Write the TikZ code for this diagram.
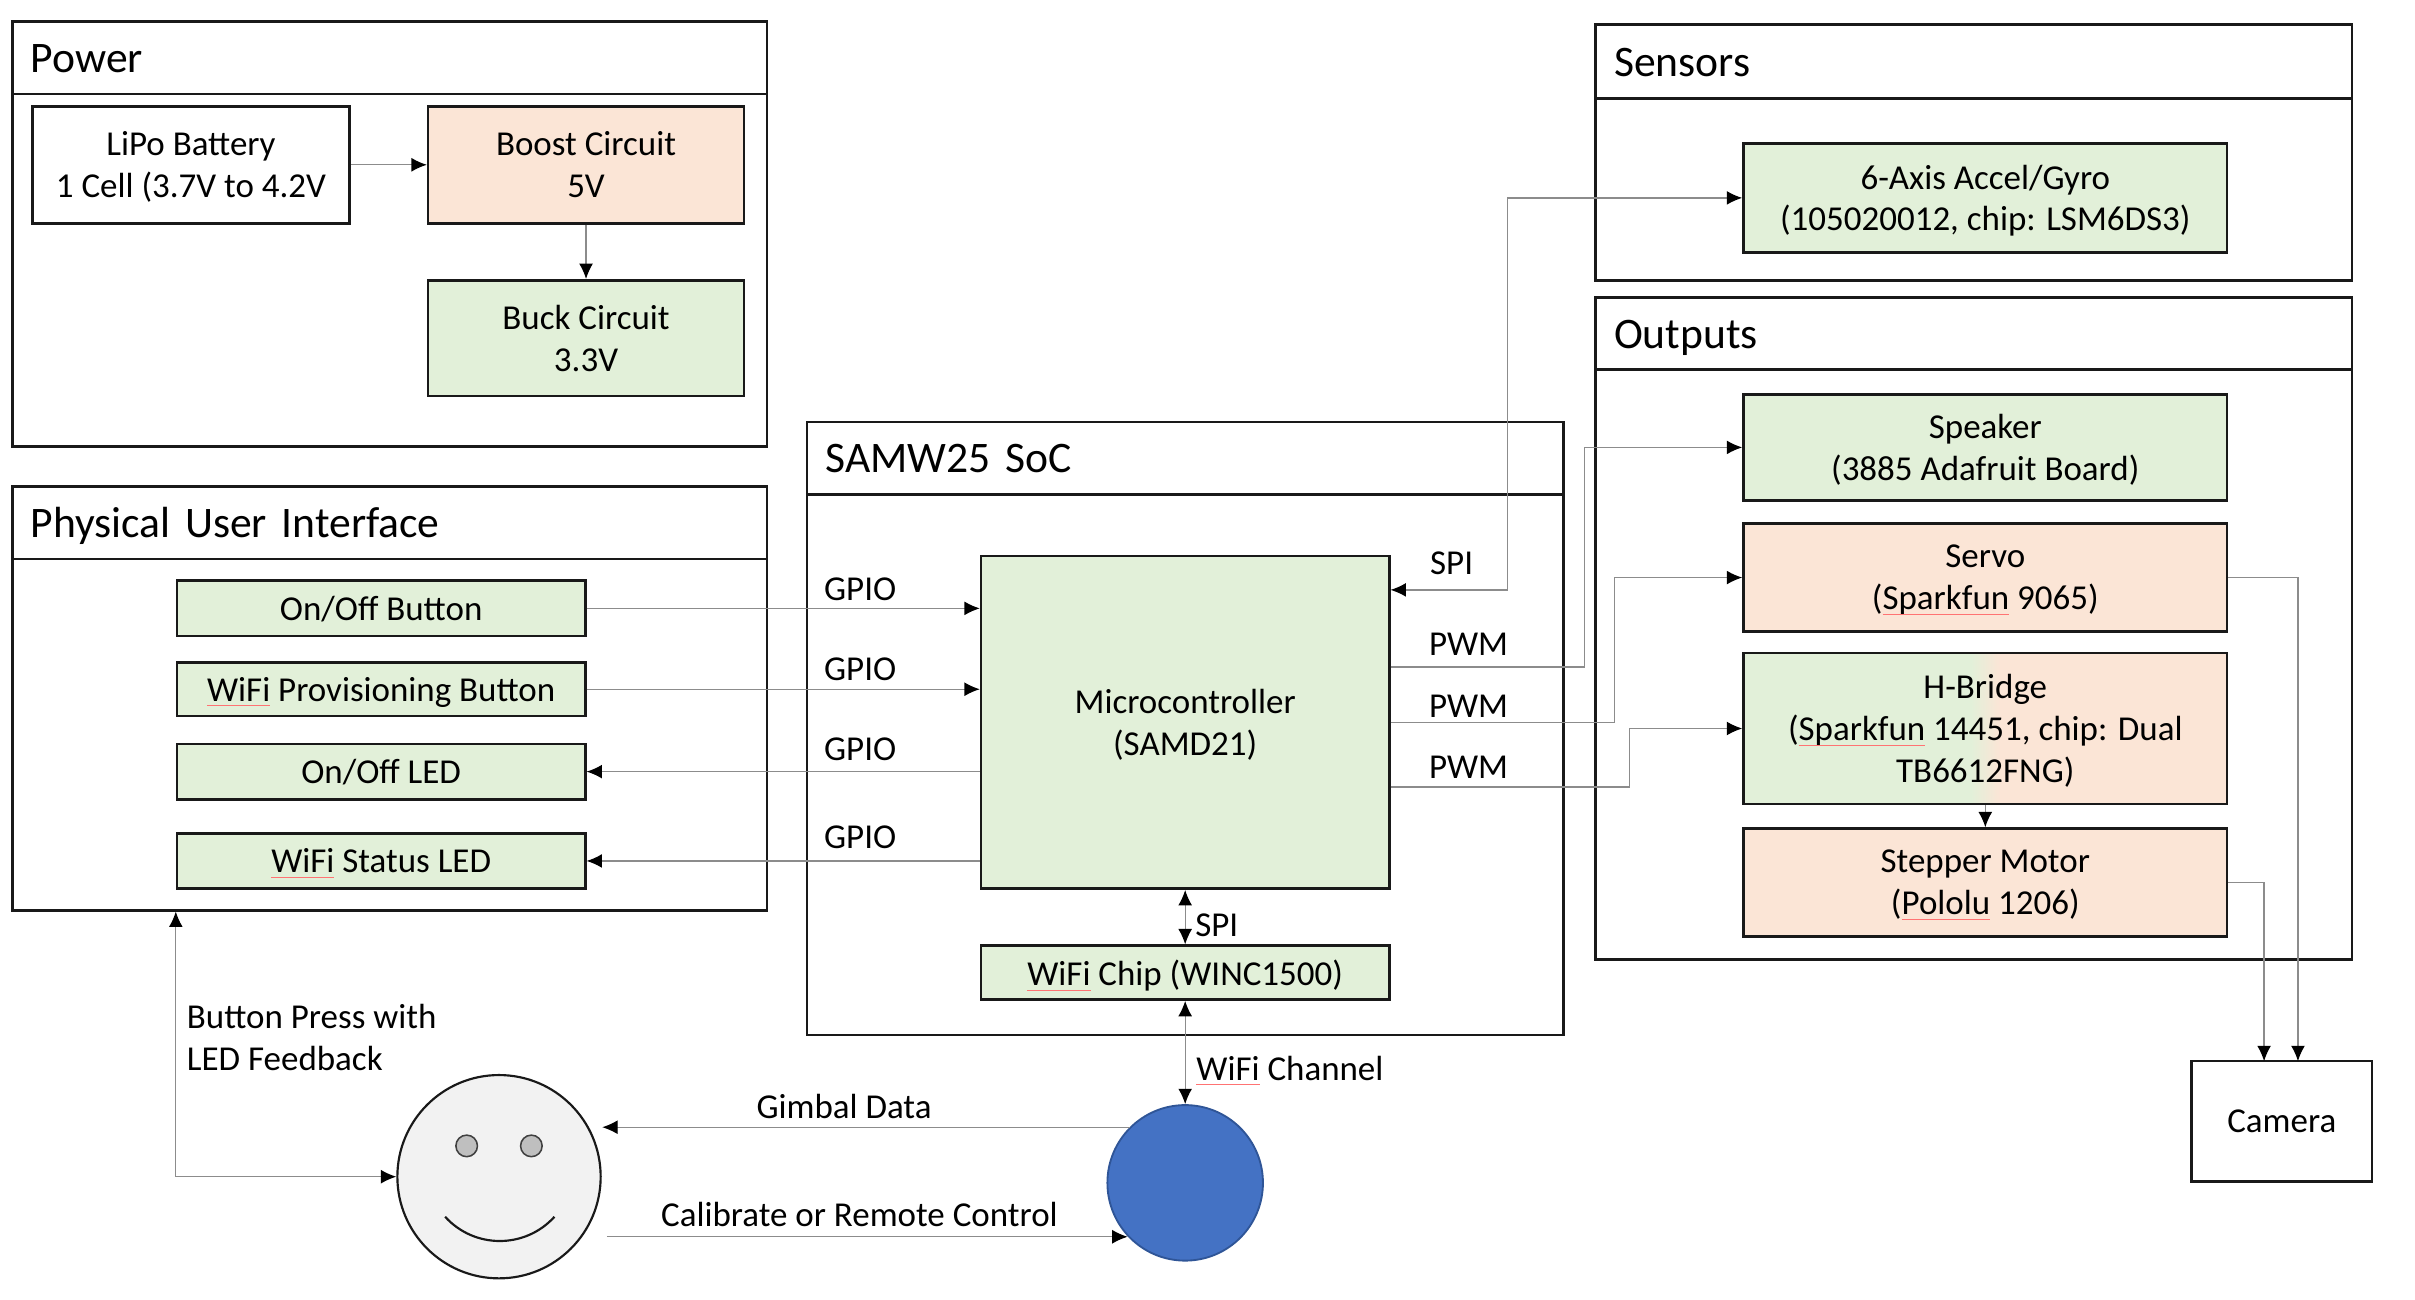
\documentclass[tikz,border=0pt]{standalone}
\usepackage{fontspec}
\setmainfont{Carlito}
\usetikzlibrary{arrows.meta,calc}
\definecolor{boxgreen}{HTML}{E2F0D9}
\definecolor{boxorange}{HTML}{FBE5D6}
\definecolor{wirecolor}{HTML}{8C8C8C}
\definecolor{dotblue}{HTML}{4472C4}
\definecolor{dotedge}{HTML}{2F5597}
\pgfdeclarehorizontalshading{hbridgeshade}{100bp}{color(0bp)=(boxgreen); color(48.5bp)=(boxgreen); color(51.5bp)=(boxorange); color(100bp)=(boxorange)}
\newsavebox\squigbox
\newcommand{\squig}[1]{\sbox\squigbox{#1}\usebox\squigbox\llap{\raisebox{-1.7pt}{\textcolor{red!55}{\rule{\wd\squigbox}{0.35pt}}}}}
\tikzset{
	boxsize/.style 2 args={minimum width=#1*0.5pt, minimum height=#2*0.5pt},
	block/.style={draw=black!90, line width=0.85pt, rectangle, inner sep=0pt, text depth=0pt, align=center, font=\fontsize{11.35}{13.6}\selectfont},
	greenblock/.style={block, fill=boxgreen},
	orangeblock/.style={block, fill=boxorange},
	groupbox/.style={draw=black!90, line width=0.85pt, rectangle, inner sep=0pt},
	grouphead/.style={draw=black!90, line width=0.85pt, rectangle, anchor=north west, outer sep=0pt, inner ysep=0pt, inner xsep=6pt, text width=#1, text height=9.6pt, text depth=0pt, minimum height=23.5pt, align=left, font=\fontsize{14.15}{16}\selectfont},
	wire/.style={draw=wirecolor, line width=0.4pt, -{Latex[black, length=5pt, width=4.5pt]}},
	wiretwo/.style={draw=wirecolor, line width=0.4pt, {Latex[black, length=5pt, width=4.5pt]}-{Latex[black, length=5pt, width=4.5pt]}},
	wirelabel/.style={inner sep=0pt, text depth=0pt, align=left, font=\fontsize{11.35}{13.6}\selectfont}
}

\begin{document}
\begin{tikzpicture}[x=0.5pt, y=-0.5pt]
	\useasboundingbox (0, 0) rectangle (1568, 844);
	%%%%% GROUPS %%%%%

	\node[groupbox, boxsize={490}{276}] (power) at (253, 152) {};
	\node[grouphead=233pt] (powerhead) at (8, 14) {Power};
	\node[groupbox, boxsize={490}{275}] (pui) at (253, 453.5) {};
	\node[grouphead=233pt] (puihead) at (8, 316) {Physical User Interface};
	\node[groupbox, boxsize={491}{398}] (soc) at (769.5, 473) {};
	\node[grouphead=233.5pt] (sochead) at (524, 274) {SAMW25 SoC};
	\node[groupbox, boxsize={491}{166}] (sensors) at (1281.5, 99) {};
	\node[grouphead=233.5pt, minimum height=24pt] (sensorshead) at (1036, 16) {Sensors};
	\node[groupbox, boxsize={491}{430}] (outputs) at (1281.5, 408) {};
	\node[grouphead=233.5pt] (outputshead) at (1036, 193) {Outputs};

	%%%%% BLOCKS %%%%%

	\node[block, boxsize={206}{76}] (lipo) at (124, 107) {LiPo Battery\\1 Cell (3.7V to 4.2V};
	\node[orangeblock, boxsize={205}{76}] (boost) at (380.5, 107) {Boost Circuit\\5V};
	\node[greenblock, boxsize={205}{75}] (buck) at (380.5, 219.5) {Buck Circuit\\3.3V};

	\node[greenblock, boxsize={265}{36}] (onoff) at (247.5, 395) {On/Off Button};
	\node[greenblock, boxsize={265}{35}] (prov) at (247.5, 447.5) {\squig{WiFi} Provisioning Button};
	\node[greenblock, boxsize={265}{36}] (onoffled) at (247.5, 501) {On/Off LED};
	\node[greenblock, boxsize={265}{36}] (statusled) at (247.5, 559) {\squig{WiFi} Status LED};

	\node[greenblock, boxsize={265}{216}] (mcu) at (769.5, 469) {Microcontroller\\(SAMD21)};
	\node[greenblock, boxsize={265}{35}] (chip) at (769.5, 631.5) {\squig{WiFi} Chip (WINC1500)};

	\node[greenblock, boxsize={314}{71}] (accel) at (1289, 128.5) {6-Axis Accel/Gyro\\(105020012, chip: LSM6DS3)};
	\node[greenblock, boxsize={314}{69}] (speaker) at (1289, 290.5) {Speaker\\(3885 Adafruit Board)};
	\node[orangeblock, boxsize={314}{70}] (servo) at (1289, 375) {Servo\\(\squig{Sparkfun} 9065)};
	\node[block, shade, shading=hbridgeshade, boxsize={314}{98}] (hbridge) at (1289, 473) {H-Bridge\\(\squig{Sparkfun} 14451, chip: Dual\\TB6612FNG)};
	\node[orangeblock, boxsize={314}{70}] (stepper) at (1289, 573) {Stepper Motor\\(\squig{Pololu} 1206)};

	\node[block, boxsize={117}{78}] (camera) at (1481.5, 728) {Camera};

	%%%%% FACE AND BLUE DOT %%%%%

	\node[circle, draw=black!90, line width=0.7pt, fill=black!5, inner sep=0pt, minimum size=66pt] (face) at (324, 764) {};
	\node[circle, draw=black!75, line width=0.5pt, fill=black!25, inner sep=0pt, minimum size=7pt] (lefteye) at (303, 744) {};
	\node[circle, draw=black!75, line width=0.5pt, fill=black!25, inner sep=0pt, minimum size=7pt] (righteye) at (345, 744) {};
	\draw[line width=0.7pt, color=black!90] (289, 790) .. controls (308, 811) and (341, 811) .. (360, 790);
	\node[circle, draw=dotedge, line width=0.6pt, fill=dotblue, inner sep=0pt, minimum size=50.5pt] (blue) at (769.5, 768) {};

	%%%%% CONNECTORS %%%%%

	\draw[wire] (lipo) -- (boost);
	\draw[wire] (boost) -- (buck);
	\draw[wire] (onoff.east) -- (onoff.east -| mcu.west);
	\draw[wire] (prov.east) -- (prov.east -| mcu.west);
	\draw[wire] (onoffled.east -| mcu.west) -- (onoffled.east);
	\draw[wire] (statusled.east -| mcu.west) -- (statusled.east);
	\draw[wiretwo] (mcu) -- (chip);
	\draw[wiretwo] (chip) -- (blue);

	\coordinate (spibend) at (979, 383);
	\coordinate (speakerbend) at (1029, 433);
	\coordinate (servobend) at (1048, 469);
	\coordinate (hbridgebend) at (1058, 511);
	\draw[wiretwo] (spibend -| mcu.east) -- (spibend) -- (spibend |- accel.west) -- (accel.west);
	\draw[wire] (speakerbend -| mcu.east) -- (speakerbend) -- (speakerbend |- speaker.west) -- (speaker.west);
	\draw[wire] (servobend -| mcu.east) -- (servobend) -- (servobend |- servo.west) -- (servo.west);
	\draw[wire] (hbridgebend -| mcu.east) -- (hbridgebend) -- (hbridgebend |- hbridge.west) -- (hbridge.west);
	\draw[wire] (hbridge) -- (stepper);

	\coordinate (steppercam) at (1470, 689);
	\coordinate (servocam) at (1492, 689);
	\draw[wire] (stepper.east) -- (stepper.east -| steppercam) -- (steppercam);
	\draw[wire] (servo.east) -- (servo.east -| servocam) -- (servocam);

	\draw[wiretwo] (onoff.west |- pui.south) -- (onoff.west |- face.west) -- (face.west);
	\coordinate (gimbalend) at (391, 732.5);
	\coordinate (calibstart) at (394, 803);
	\draw[wire] (blue.135) -- (blue.135 -| gimbalend);
	\draw[wire] (calibstart) -- (calibstart -| blue.223);

	%%%%% LABELS %%%%%

	\node[wirelabel] (gpioa) at (558.5, 382.5) {GPIO};
	\node[wirelabel] (gpiob) at (558.5, 434.5) {GPIO};
	\node[wirelabel] (gpioc) at (558.5, 486.5) {GPIO};
	\node[wirelabel] (gpiod) at (558.5, 543.5) {GPIO};
	\node[wirelabel] (spisensor) at (942.5, 365.5) {SPI};
	\node[wirelabel] (pwma) at (953.5, 418.5) {PWM};
	\node[wirelabel] (pwmb) at (953.5, 458.5) {PWM};
	\node[wirelabel] (pwmc) at (953.5, 498.5) {PWM};
	\node[wirelabel] (spichip) at (790, 600.5) {SPI};
	\node[wirelabel] (wifichannel) at (837.5, 693.5) {\squig{WiFi} Channel};
	\node[wirelabel] (gimbal) at (548, 718.5) {Gimbal Data};
	\node[wirelabel] (calibrate) at (558, 788.5) {Calibrate or Remote Control};
	\node[wirelabel, anchor=west] (buttonpress) at (121, 673.5) {Button Press with\\LED Feedback};

	%%%%% END %%%%%
\end{tikzpicture}
\end{document}
